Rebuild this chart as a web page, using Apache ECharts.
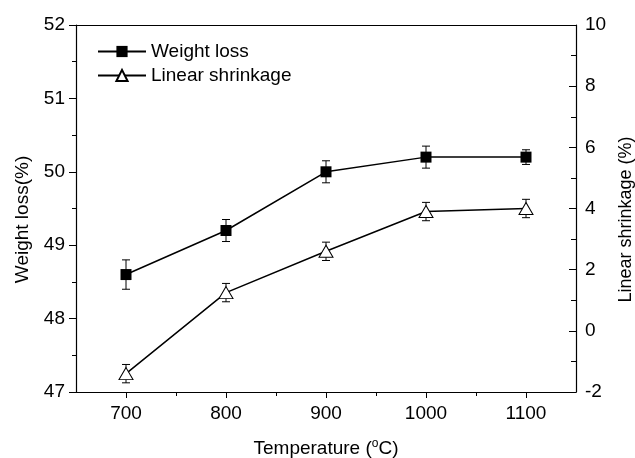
<!DOCTYPE html>
<html>
<head>
<meta charset="utf-8">
<script src="https://cdn.jsdelivr.net/npm/echarts@6/dist/echarts.min.js"></script>
<style>
  html, body { margin: 0; padding: 0; background: #fff; }
  #chart { width: 635px; height: 458px; }
</style>
</head>
<body>
<div id="chart"></div>
<script>
  // data
  var temps = [700, 800, 900, 1000, 1100]
  var weightLoss = [48.6, 49.2, 50.0, 50.2, 50.2]
  var weightErr = [0.2, 0.15, 0.15, 0.15, 0.1]
  var shrinkage = [-1.4, 1.25, 2.6, 3.9, 4.0]
  var shrinkErr = [0.3, 0.3, 0.3, 0.3, 0.3]
  var xMajor = [700, 800, 900, 1000, 1100]
  var xMinor = [750, 850, 950, 1050]

  var font = 'Liberation Sans, Arial, sans-serif'

  function pairs (xs, ys) {
    return xs.map(function (x, i) { return [x, ys[i]] })
  }
  function errData (xs, ys, es) {
    return xs.map(function (x, i) { return [x, ys[i] - es[i], ys[i] + es[i]] })
  }
  function plain (v) {
    return String(v)
  }
  function renderErr (params, api) {
    var lo = api.coord([api.value(0), api.value(1)])
    var hi = api.coord([api.value(0), api.value(2)])
    var w = 4
    var style = { stroke: '#000', lineWidth: 1 }
    return {
      type: 'group',
      children: [
        { type: 'line', shape: { x1: lo[0], y1: lo[1], x2: hi[0], y2: hi[1] }, style: style },
        { type: 'line', shape: { x1: lo[0] - w, y1: lo[1], x2: lo[0] + w, y2: lo[1] }, style: style },
        { type: 'line', shape: { x1: hi[0] - w, y1: hi[1], x2: hi[0] + w, y2: hi[1] }, style: style }
      ]
    }
  }

  var chart = echarts.init(document.getElementById('chart'))
  var option = {
    animation: false,
    backgroundColor: '#fff',
    textStyle: { fontFamily: font, color: '#000' },
    grid: { left: 76, right: 59, top: 25, bottom: 66, outerBoundsMode: 'none', containLabel: false },
    legend: {
      orient: 'vertical',
      left: 92,
      top: 37,
      itemWidth: 48,
      itemHeight: 14,
      itemGap: 5,
      textStyle: { fontFamily: font, fontSize: 19, color: '#000' },
      data: ['Weight loss', 'Linear shrinkage']
    },
    xAxis: [
      {
        type: 'value',
        min: 650,
        max: 1150,
        interval: 50,
        name: 'Temperature ({sup|o}C)',
        nameLocation: 'middle',
        nameGap: 46,
        nameTextStyle: {
          fontFamily: font,
          fontSize: 19,
          color: '#000',
          rich: { sup: { fontSize: 12, verticalAlign: 'top', padding: [0, 0, 9, 0], fontFamily: font } }
        },
        axisLine: { onZero: false, lineStyle: { color: '#000', width: 1.2 } },
        axisTick: { customValues: xMajor, length: 6, lineStyle: { color: '#000' } },
        axisLabel: { customValues: xMajor, formatter: plain, fontSize: 19, color: '#000', margin: 12, fontFamily: font },
        splitLine: { show: false }
      },
      {
        type: 'value',
        min: 650,
        max: 1150,
        interval: 50,
        position: 'bottom',
        axisLine: { show: false, onZero: false },
        axisTick: { customValues: xMinor, length: 4, lineStyle: { color: '#000' } },
        axisLabel: { show: false },
        splitLine: { show: false }
      },
      {
        type: 'value',
        min: 650,
        max: 1150,
        position: 'top',
        axisLine: { onZero: false, lineStyle: { color: '#000', width: 1.2 } },
        axisTick: { show: false },
        axisLabel: { show: false },
        splitLine: { show: false }
      }
    ],
    yAxis: [
      {
        type: 'value',
        min: 47,
        max: 52,
        interval: 1,
        name: 'Weight loss(%)',
        nameLocation: 'middle',
        nameGap: 44,
        nameTextStyle: { fontFamily: font, fontSize: 19, color: '#000', padding: [0, 22, 0, 0] },
        axisLine: { show: true, onZero: false, lineStyle: { color: '#000', width: 1.2 } },
        axisTick: { length: 7, lineStyle: { color: '#000' } },
        minorTick: { show: true, splitNumber: 2, length: 4, lineStyle: { color: '#000' } },
        axisLabel: { formatter: plain, fontSize: 19, color: '#000', margin: 11, fontFamily: font },
        splitLine: { show: false }
      },
      {
        type: 'value',
        min: -2,
        max: 10,
        interval: 2,
        position: 'right',
        name: 'Linear shrinkage (%)',
        nameLocation: 'middle',
        nameGap: 40,
        nameRotate: 90,
        nameTextStyle: { fontFamily: font, fontSize: 18, color: '#000', padding: [0, 22, 0, 0] },
        axisLine: { show: true, onZero: false, lineStyle: { color: '#000', width: 1.2 } },
        axisTick: { inside: true, length: 7, lineStyle: { color: '#000' } },
        minorTick: { show: true, splitNumber: 2, length: 5, lineStyle: { color: '#000' } },
        axisLabel: { formatter: plain, fontSize: 19, color: '#000', margin: 9, fontFamily: font },
        splitLine: { show: false }
      }
    ],
    series: [
      {
        type: 'custom',
        name: 'wlErr',
        xAxisIndex: 0,
        yAxisIndex: 0,
        renderItem: renderErr,
        data: errData(temps, weightLoss, weightErr),
        z: 1,
        silent: true
      },
      {
        type: 'custom',
        name: 'lsErr',
        xAxisIndex: 0,
        yAxisIndex: 1,
        renderItem: renderErr,
        data: errData(temps, shrinkage, shrinkErr),
        z: 1,
        silent: true
      },
      {
        type: 'line',
        name: 'Weight loss',
        xAxisIndex: 0,
        yAxisIndex: 0,
        data: pairs(temps, weightLoss),
        symbol: 'rect',
        symbolSize: 11,
        lineStyle: { color: '#000', width: 1.5 },
        itemStyle: { color: '#000', borderColor: '#000', borderWidth: 0 },
        z: 3
      },
      {
        type: 'line',
        name: 'Linear shrinkage',
        xAxisIndex: 0,
        yAxisIndex: 1,
        data: pairs(temps, shrinkage),
        symbol: 'triangle',
        symbolSize: [14, 12],
        lineStyle: { color: '#000', width: 1.5 },
        itemStyle: { color: '#fff', borderColor: '#000', borderWidth: 1 },
        z: 3
      }
    ]
  }
  chart.setOption(option)
</script>
</body>
</html>
